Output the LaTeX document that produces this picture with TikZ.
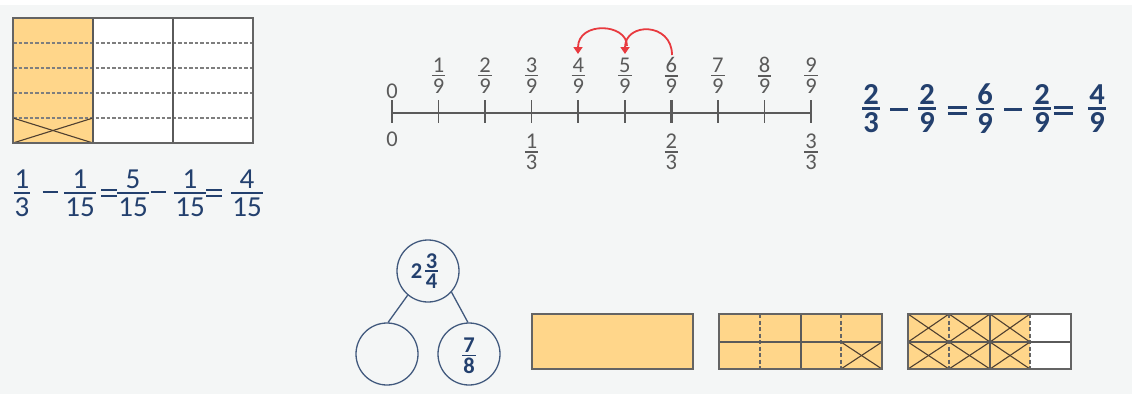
\documentclass[tikz,border=0pt]{standalone}
\usepackage{fontspec}
\setmainfont{Carlito}
\usetikzlibrary{arrows.meta}
\definecolor{bgc}{HTML}{F4F6F6}
\definecolor{orng}{HTML}{FFD68A}
\definecolor{navy}{HTML}{23406E}
\definecolor{lgray}{HTML}{5A5A5A}
\definecolor{bord}{HTML}{646464}
\definecolor{dash}{HTML}{7E7E7E}
\definecolor{redc}{HTML}{E83A3F}
\definecolor{circc}{HTML}{41597D}
\newdimen\fgap \newdimen\frul
\newcommand\fr[2]{\vbox{\offinterlineskip\halign{\hfil\kern1pt##\kern1pt\hfil\cr #1\cr\noalign{\kern\fgap\hrule height \frul\kern\fgap}#2\cr}}}
\newcommand\mminus[2]{\vrule width #1 height #2 depth 0pt}
\newcommand\mequal[3]{\vbox{\hrule width #1 height #2\kern#3\hrule width #1 height #2}}
\tikzset{
  lefteq/.style={inner sep=0pt, text=navy, font={\fontsize{29}{34}\selectfont\fgap=3.5pt\frul=2pt}},
  righteq/.style={inner sep=0pt, text=navy, font={\fontsize{30.5}{36}\selectfont\bfseries\fgap=3pt\frul=2.4pt}},
  nlab/.style={inner sep=0pt, text=lgray, font={\fontsize{22.5}{27}\selectfont\fgap=2.3pt\frul=1.5pt}},
  bondtxt/.style={inner sep=0pt, text=navy, font={\fontsize{22.5}{27}\selectfont\bfseries\fgap=2pt\frul=1.7pt}},
  bondcirc/.style={circle, draw=circc, line width=1.3pt, minimum size=62pt, inner sep=0pt},
  boxline/.style={draw=bord, line width=1.8pt},
  divline/.style={draw=bord!90!black, line width=1.6pt},
  dashline/.style={draw=dash, line width=2pt, dash pattern=on 3.5pt off 2pt},
  dashdark/.style={draw=bord, line width=1.8pt, dash pattern=on 4pt off 2.5pt},
  crossline/.style={draw=bord!80!orange!60!black, line width=1.1pt},
  tickline/.style={draw=lgray, line width=1.5pt},
  jump/.style={draw=redc, line width=1.8pt, -{Triangle[width=9pt,length=7pt]}},
}
\begin{document}
\begin{tikzpicture}[x=1pt,y=-1pt]
\path[use as bounding box] (0,0) rectangle (1132,394);
\fill[white] (0,0) rectangle (1132,5);
\fill[bgc] (0,5) rectangle (1132,394);

% ---- left grid
\fill[white] (13,18) rectangle (253,143);
\fill[orng] (13,18) rectangle (93,143);
\foreach \yy in {43,68,93,118} \draw[dashline] (13,\yy) -- (253,\yy);
\draw[crossline] (13,118) -- (93,143);
\draw[crossline] (13,143) -- (93,118);
\draw[divline] (93,18) -- (93,143);
\draw[divline] (173,18) -- (173,143);
\draw[boxline] (13,18) rectangle (253,143);

% ---- left equation
\node[lefteq] (l1) at (22,193) {\fr{1}{3}};
\node[lefteq] (l2) at (50,192) {\mminus{15pt}{2pt}};
\node[lefteq] (l3) at (80,193) {\fr{1}{15}};
\node[lefteq] (l4) at (109,193) {\mequal{16pt}{2pt}{4pt}};
\node[lefteq] (l5) at (133,193) {\fr{5}{15}};
\node[lefteq] (l6) at (158,192) {\mminus{15pt}{2pt}};
\node[lefteq] (l7) at (190,193) {\fr{1}{15}};
\node[lefteq] (l8) at (214,193) {\mequal{16pt}{2pt}{4pt}};
\node[lefteq] (l9) at (247,193) {\fr{4}{15}};

% ---- number line
\draw[tickline] (392,113) -- (811,113);
\foreach \i in {0,...,9} {
  \coordinate (t\i) at ({392+46.56*\i},113);
  \draw[tickline] ([yshift=13pt]t\i) -- ([yshift=-10pt]t\i);
}
\draw[draw=lgray, line width=2.8pt] ([yshift=13pt]t6) -- ([yshift=-10pt]t6);
\node[nlab] (z0) at (392,91) {0};
\foreach \i in {1,...,9} \node[nlab] (f\i) at ({392+46.56*\i},75.5) {\fr{\i}{9}};
\node[nlab] (z1) at (392,139) {0};
\node[nlab] (g1) at ([yshift=-39pt]t3) {\fr{1}{3}};
\node[nlab] (g2) at ([yshift=-39pt]t6) {\fr{2}{3}};
\node[nlab] (g3) at ([yshift=-39pt]t9) {\fr{3}{3}};

% red jumps
\coordinate (a6) at (672,55);
\coordinate (a5) at (625,54);
\coordinate (a5s) at (627,46);
\coordinate (a4) at (578,54);
\draw[jump] (a6) .. controls (672,22) and (625,22) .. (a5);
\draw[jump] (a5s) .. controls (627,23) and (578,21) .. (a4);

% ---- right equation
\node[righteq] (r1) at (871,108.5) {\fr{2}{3}};
\node[righteq] (r2) at (899,109) {\mminus{18pt}{3pt}};
\node[righteq] (r3) at (927,108.5) {\fr{2}{9}};
\node[righteq] (r4) at (957,110.5) {\mequal{19pt}{2.8pt}{3pt}};
\node[righteq] (r5) at (985,108.5) {\fr{6}{9}};
\node[righteq] (r6) at (1013,109) {\mminus{18pt}{3pt}};
\node[righteq] (r7) at (1042,108.5) {\fr{2}{9}};
\node[righteq] (r8) at (1063,110.5) {\mequal{19pt}{2.8pt}{3pt}};
\node[righteq] (r9) at (1097,108.5) {\fr{4}{9}};

% ---- number bond
\node[bondcirc] (top) at (428,271) {};
\node[bondcirc] (bl) at (387,354) {};
\node[bondcirc] (br) at (469,354) {};
\draw[draw=circc, line width=1.3pt] (top.230) -- (bl.88);
\draw[draw=circc, line width=1.3pt] (top.318) -- (br.92);
\node[bondtxt] (whole) at (416.5,271) {2};
\node[bondtxt] (wfr) at (431.5,271) {\fr{3}{4}};
\node[bondtxt] (part) at (469,356) {\fr{7}{8}};

% ---- bar A
\fill[orng] (532,314) rectangle (693,369);
\draw[boxline] (532,314) rectangle (693,369);

% ---- bar B
\fill[orng] (719,314) rectangle (882,369);
\draw[dashdark] (760,314) -- (760,369);
\draw[dashdark] (841,314) -- (841,369);
\draw[crossline] (841,342) -- (882,369);
\draw[crossline] (841,369) -- (882,342);
\draw[divline] (801,314) -- (801,369);
\draw[divline] (719,342) -- (882,342);
\draw[boxline] (719,314) rectangle (882,369);

% ---- bar C
\fill[white] (908,314) rectangle (1071,369);
\fill[orng] (908,314) rectangle (1030,369);
\foreach \xa/\xb in {908/949,949/990,990/1030}
  \foreach \ya/\yb in {314/342,342/369} {
    \draw[crossline] (\xa,\ya) -- (\xb,\yb);
    \draw[crossline] (\xa,\yb) -- (\xb,\ya);
  }
\draw[dashdark] (949,314) -- (949,369);
\draw[dashdark] (1030,314) -- (1030,369);
\draw[divline] (990,314) -- (990,369);
\draw[divline] (908,342) -- (1071,342);
\draw[boxline] (908,314) rectangle (1071,369);
\end{tikzpicture}
\end{document}
